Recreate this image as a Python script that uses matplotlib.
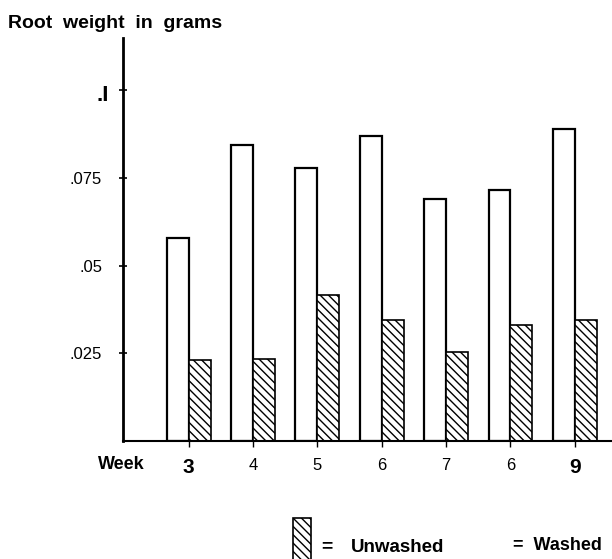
import matplotlib.pyplot as plt
from matplotlib.patches import Rectangle
from matplotlib.transforms import ScaledTranslation

plt.rcParams['font.family'] = ['Liberation Sans', 'DejaVu Sans']
plt.rcParams['hatch.linewidth'] = 1.0

# datos
semanas = ['3', '4', '5', '6', '7', '6', '9']
lavado = [0.058, 0.0843, 0.0777, 0.0871, 0.0689, 0.0717, 0.0891]
sin_lavar = [0.023, 0.0234, 0.0417, 0.0346, 0.0254, 0.0331, 0.0346]
y_ticks = [0.025, 0.05, 0.075, 0.1]
y_labels = ['.025', '.05', '.075', '.I']

fig = plt.figure(figsize=(6.12, 5.59), dpi=100)
ax = fig.add_axes([0.201, 0.211, 0.797, 0.721])

x = list(range(len(semanas)))
ancho = 0.34
ax.bar([i - ancho / 2 for i in x], lavado, ancho, color='white',
       edgecolor='black', linewidth=1.6)
ax.bar([i + ancho / 2 for i in x], sin_lavar, ancho, color='white',
       edgecolor='black', linewidth=1.2, hatch='\\\\\\\\')

ax.set_xlim(-1.02, 6.56)
ax.set_ylim(0, 0.1149)

for lado in ['top', 'right']:
    ax.spines[lado].set_visible(False)
ax.spines['left'].set_linewidth(2)
ax.spines['bottom'].set_linewidth(1.5)

ax.set_yticks(y_ticks)
ax.set_yticklabels(y_labels, fontsize=12)
ax.tick_params(axis='y', direction='inout', length=6, width=1.2, pad=12)
for lbl in ax.get_yticklabels():
    if lbl.get_text() == '.I':
        lbl.set_fontsize(16)
        lbl.set_fontweight('bold')
        lbl.set_transform(lbl.get_transform()
                          + ScaledTranslation(0.07, -0.03, fig.dpi_scale_trans))

ax.set_xticks(x)
ax.set_xticklabels(semanas, fontsize=12)
ax.tick_params(axis='x', direction='out', length=4, width=1, pad=8)
for lbl in ax.get_xticklabels()[::6]:
    lbl.set_fontsize(15)
    lbl.set_fontweight('bold')

ax.text(-1.05, -0.0068, 'Week', fontsize=13, fontweight='bold',
        ha='center', va='center', transform=ax.transData)

fig.text(0.013, 0.958, 'Root  weight  in  grams', fontsize=14,
         fontweight='bold', ha='left', va='center')

# leyenda
fig.add_artist(Rectangle((293 / 612, 1 - 562 / 559), 18 / 612, 44 / 559,
                         transform=fig.transFigure, facecolor='white',
                         edgecolor='black', linewidth=1.2, hatch='\\\\\\\\'))
fig.text(321 / 612, 1 - 547 / 559, '=', fontsize=14, fontweight='bold',
         ha='left', va='center')
fig.text(351 / 612, 1 - 547 / 559, 'Unwashed', fontsize=13.5,
         fontweight='bold', ha='left', va='center')
fig.text(513 / 612, 1 - 545 / 559, '=  Washed', fontsize=13,
         fontweight='bold', ha='left', va='center')

plt.savefig('out.png', dpi=100)
